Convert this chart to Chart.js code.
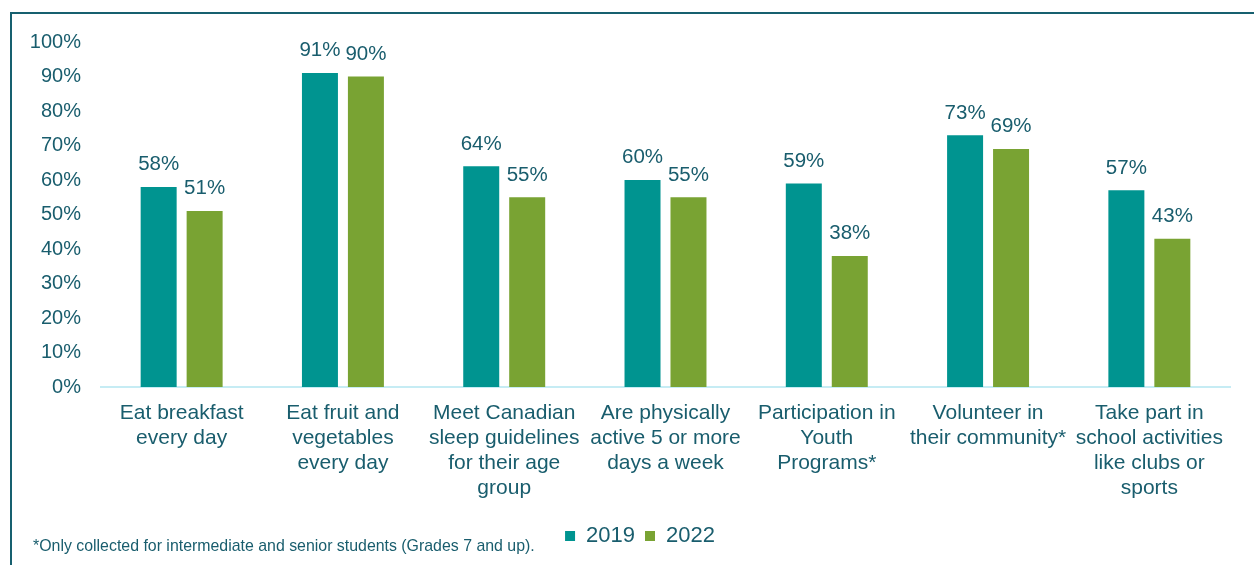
<!DOCTYPE html>
<html lang="en">
<head>
  <meta charset="UTF-8" />
  <title>Student health indicators 2019 vs 2022</title>
  <script src="https://cdn.jsdelivr.net/npm/chart.js"></script>
  <style>
    html, body {margin:0;padding:0;background:#fff;}
    body {width:1254px;height:565px;overflow:hidden;position:relative;font-family:"Liberation Sans", Arial, sans-serif;}
    .frame {position:absolute;left:10px;top:12px;width:1300px;height:600px;border-top:2px solid #17606f;border-left:2px solid #17606f;}
    #wrap {position:absolute;left:0;top:0;width:1254px;height:565px;}
    .note {position:absolute;left:33px;top:537px;font-size:15.9px;color:#195d6d;white-space:nowrap;}
  </style>
</head>
<body>
  <div class="frame"></div>
  <div id="wrap"><canvas id="chart"></canvas></div>
  <div class="note">*Only collected for intermediate and senior students (Grades 7 and up).</div>

<script>
// --------- data ---------
const categories = [
  ['Eat breakfast', 'every day'],
  ['Eat fruit and', 'vegetables', 'every day'],
  ['Meet Canadian', 'sleep guidelines', 'for their age', 'group'],
  ['Are physically', 'active 5 or more', 'days a week'],
  ['Participation in', 'Youth', 'Programs*'],
  ['Volunteer in', 'their community*'],
  ['Take part in', 'school activities', 'like clubs or', 'sports']
];
const seriesNames = ['2019', '2022'];
const values2019 = [58, 91, 64, 60, 59, 73, 57];
const values2022 = [51, 90, 55, 55, 38, 69, 43];
const yTicks = [0, 10, 20, 30, 40, 50, 60, 70, 80, 90, 100];

const textColor = '#195d6d';
const colors = ['#009490', '#79a333'];
const fontFamily = '"Liberation Sans", Arial, sans-serif';

// --------- value labels above bars ---------
const barLabels = {
  id: 'barLabels',
  afterDatasetsDraw(chart) {
    const ctx = chart.ctx;
    ctx.save();
    ctx.font = '20.5px ' + fontFamily;
    ctx.fillStyle = textColor;
    ctx.textAlign = 'center';
    ctx.textBaseline = 'bottom';
    chart.data.datasets.forEach((ds, i) => {
      chart.getDatasetMeta(i).data.forEach((bar, j) => {
        ctx.fillText(ds.data[j] + '%', bar.x, bar.y - 12);
      });
    });
    ctx.restore();
  }
};

// legend sits a little right of the plot centre in the original
const shiftLegend = {
  id: 'shiftLegend',
  afterLayout(chart) {
    chart.legend.left += 25;
    chart.legend.right += 25;
  }
};

const ctx = document.getElementById('chart').getContext('2d');
new Chart(ctx, {
  type: 'bar',
  data: {
    labels: categories,
    datasets: [
      {label: seriesNames[0], data: values2019, backgroundColor: colors[0]},
      {label: seriesNames[1], data: values2022, backgroundColor: colors[1]}
    ]
  },
  options: {
    responsive: true,
    maintainAspectRatio: false,
    animation: false,
    datasets: {bar: {categoryPercentage: 0.57, barPercentage: 0.783}},
    layout: {padding: {top: 42, left: 0, right: 24, bottom: 8}},
    plugins: {
      legend: {
        position: 'bottom',
        labels: {
          boxWidth: 10, boxHeight: 10, padding: 10,
          color: textColor,
          font: {size: 22, family: fontFamily}
        }
      },
      tooltip: {enabled: false}
    },
    scales: {
      x: {
        grid: {display: false},
        border: {display: true, color: '#c6ecf4', width: 2},
        ticks: {
          color: textColor, padding: 6, maxRotation: 0, autoSkip: false,
          font: {size: 21, family: fontFamily, lineHeight: 1.18}
        },
        afterFit: s => { s.height = 128; }
      },
      y: {
        min: 0, max: 100,
        grid: {display: false},
        border: {display: false},
        afterBuildTicks: s => { s.ticks = yTicks.map(v => ({value: v})); },
        ticks: {
          color: textColor, padding: 12,
          font: {size: 20, family: fontFamily},
          callback: v => v + '%'
        },
        afterFit: s => { s.width = 101; }
      }
    }
  },
  plugins: [barLabels, shiftLegend]
});
</script>
</body>
</html>
